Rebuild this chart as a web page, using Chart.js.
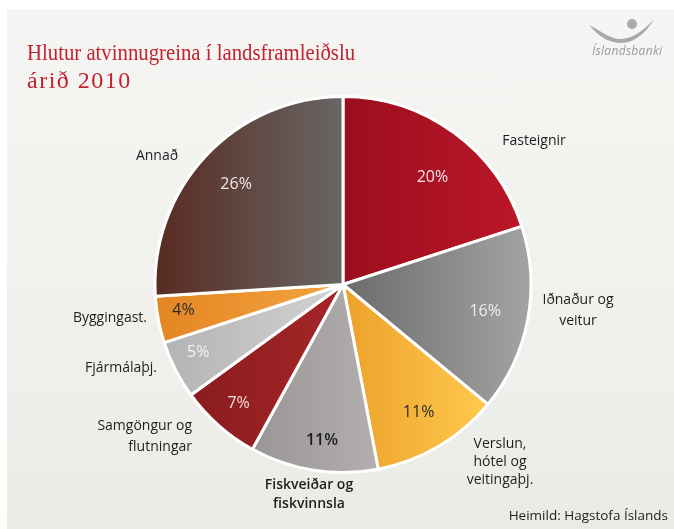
<!DOCTYPE html>
<html>
<head>
<meta charset="utf-8">
<script src="https://cdn.jsdelivr.net/npm/chart.js@4/dist/chart.umd.min.js"></script>
<style>
  html, body { margin:0; padding:0; background:#ffffff; width:674px; height:529px; overflow:hidden; }
  #panel { position:absolute; left:7px; top:9px; right:0; bottom:0;
    background:linear-gradient(to bottom, #f5f5f3 0%, #f1f1ee 50%, #ebebe6 100%); }
  #wrap { position:absolute; left:0; top:0; width:674px; height:529px; }
  #title { position:absolute; left:27px; top:38px; font-family:"Liberation Serif", serif; font-size:24px;
    line-height:28px; color:#c4212f; white-space:nowrap; }
  #title .l1 { display:block; transform:scaleX(0.865); transform-origin:left top; }
  #title .l2 { display:block; letter-spacing:1.5px; }
  #logotext { position:absolute; left:592px; top:42px; font-family:"Open Sans", sans-serif; font-style:italic;
    font-size:12px; color:#9a9a9a; letter-spacing:0.3px; }
  #logo { position:absolute; left:0; top:0; }
</style>
</head>
<body>
<div id="panel"></div>
<div id="wrap"><canvas id="c" width="674" height="529"></canvas></div>
<div id="title"><span class="l1">Hlutur atvinnugreina í landsframleiðslu</span><span class="l2">árið 2010</span></div>
<svg id="logo" width="674" height="60">
  <path d="M589,25 C600,30 610,40 622,39 C635,38 646,28 654,19 C647,31 636,43 621,43 C606,43 596,33 589,25 Z" fill="#a9a9a9"/>
  <circle cx="632" cy="24" r="5" fill="#a9a9a9"/>
</svg>
<div id="logotext">Íslandsbanki</div>
<script>
// ---- data ----
const categories = ['Fasteignir', 'Iðnaður og veitur', 'Verslun, hótel og veitingaþj.', 'Fiskveiðar og fiskvinnsla',
                    'Samgöngur og flutningar', 'Fjármálaþj.', 'Byggingast.', 'Annað'];
const values = [20, 16, 11, 11, 7, 5, 4, 26];
const labelLines = [['Fasteignir'], ['Iðnaður og', 'veitur'], ['Verslun,', 'hótel og', 'veitingaþj.'],
                    ['Fiskveiðar og', 'fiskvinnsla'], ['Samgöngur og', 'flutningar'], ['Fjármálaþj.'],
                    ['Byggingast.'], ['Annað']];
const sourceText = 'Heimild: Hagstofa Íslands';

// ---- styles ----
const gradStops = [
  ['#9b0e1d', '#bb1729'],
  ['#6b6b6b', '#a4a4a4'],
  ['#eca12a', '#ffc94d'],
  ['#9a9695', '#b3afae'],
  ['#8a1c1e', '#a62628'],
  ['#b3b3b3', '#d3d3d3'],
  ['#e38624', '#f4a43f'],
  ['#592b21', '#686665']
];
const pctColors = ['#f3e6e6', '#eeeeee', '#2a2a2a', '#1e1e1e', '#f0e0e0', '#f4f4f4', '#2a2a2a', '#efe9e6'];
const pctBold = [false, false, false, true, false, false, false, false];
const pctRadius = [0.74, 0.77, 0.79, 0.835, 0.84, 0.85, 0.86, 0.78];
const pctAngleShift = [4, 0, 0, -1.3, 0, 2, 1.4, 0];
// outer label placement relative to pie centre: [dx, dy(first line), align, lineHeight, bold]
const outerPlace = [
  [191, -143, 'center', 21, false],
  [235, 16, 'center', 21, false],
  [157, 160, 'center', 18, false],
  [-34, 201, 'center', 19, true],
  [-151, 142, 'right', 21, false],
  [-186, 84, 'right', 21, false],
  [-196, 34, 'right', 21, false],
  [-186, -128, 'center', 21, false]
];
const R = 188;

const total = values.reduce((a, b) => a + b, 0);

function sliceGradient(ctx) {
  const chart = ctx.chart;
  const ca = chart.chartArea;
  if (!ca) return gradStops[ctx.dataIndex][0];
  const cx = (ca.left + ca.right) / 2;
  let cum = 0;
  for (let k = 0; k < ctx.dataIndex; k++) cum += values[k];
  const a0 = -Math.PI / 2 + cum / total * 2 * Math.PI;
  const a1 = a0 + values[ctx.dataIndex] / total * 2 * Math.PI;
  let xs = [cx, cx + R * Math.cos(a0), cx + R * Math.cos(a1)];
  for (let m = -2; m <= 4; m++) {
    const a = m * Math.PI;
    if (a > a0 && a < a1) xs.push(cx + R * Math.cos(a));
  }
  const minX = Math.min(...xs), maxX = Math.max(...xs);
  const g = chart.ctx.createLinearGradient(minX, 0, maxX, 0);
  g.addColorStop(0, gradStops[ctx.dataIndex][0]);
  g.addColorStop(1, gradStops[ctx.dataIndex][1]);
  return g;
}

const labelPlugin = {
  id: 'labelPlugin',
  afterDatasetsDraw(chart) {
    const c = chart.ctx;
    const meta = chart.getDatasetMeta(0);
    c.save();
    c.textBaseline = 'middle';
    meta.data.forEach((arc, i) => {
      const mid = (arc.startAngle + arc.endAngle) / 2 + pctAngleShift[i] * Math.PI / 180;
      const r = arc.outerRadius * pctRadius[i];
      c.font = (pctBold[i] ? '600 ' : '') + '16px "Open Sans"';
      c.fillStyle = pctColors[i];
      c.textAlign = 'center';
      c.fillText(values[i] + '%', arc.x + r * Math.cos(mid), arc.y + r * Math.sin(mid));
      const p = outerPlace[i];
      c.font = (p[4] ? '600 ' : '') + '14px "Open Sans"';
      c.fillStyle = '#1e1e1e';
      c.textAlign = p[2];
      labelLines[i].forEach((line, j) => {
        c.fillText(line, arc.x + p[0], arc.y + p[1] + j * p[3]);
      });
    });
    c.font = '13.5px "Open Sans"';
    c.fillStyle = '#1e1e1e';
    c.textAlign = 'right';
    c.fillText(sourceText, 668, 516);
    c.restore();
  }
};

new Chart(document.getElementById('c'), {
  type: 'pie',
  data: {
    labels: categories,
    datasets: [{
      data: values,
      backgroundColor: sliceGradient,
      borderColor: '#ffffff',
      borderWidth: 3,
      radius: R
    }]
  },
  options: {
    responsive: false,
    animation: false,
    layout: { padding: { left: 12, right: 0, top: 40, bottom: 0 } },
    plugins: { legend: { display: false }, tooltip: { enabled: false }, title: { display: false } }
  },
  plugins: [labelPlugin]
});
</script>
</body>
</html>
